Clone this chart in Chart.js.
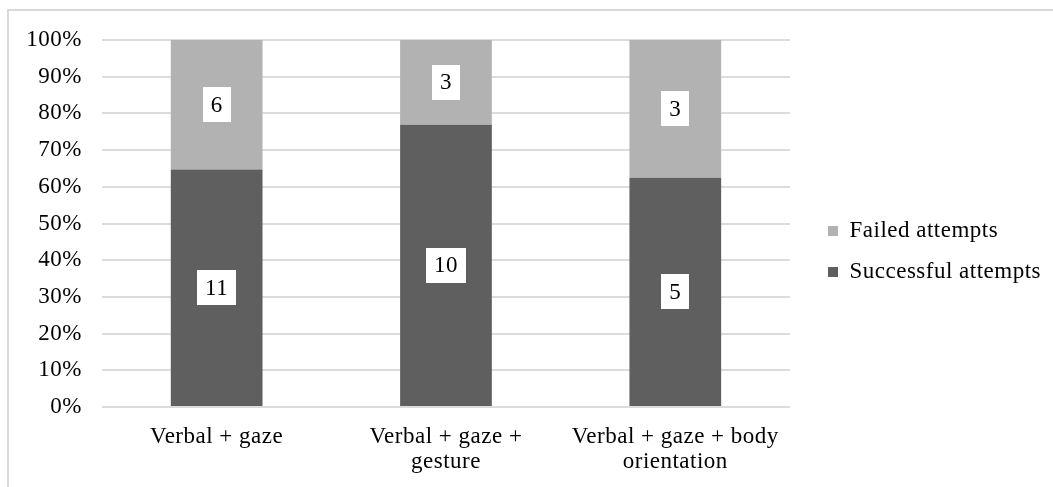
<!DOCTYPE html>
<html>
<head>
<meta charset="utf-8">
<script src="https://cdn.jsdelivr.net/npm/chart.js@4/dist/chart.umd.min.js"></script>
<style>
  html, body { margin: 0; padding: 0; background: #ffffff; }
  body { width: 1053px; height: 487px; position: relative; overflow: hidden; }
  #frame { position: absolute; left: 7px; top: 9px; width: 1100px; height: 600px;
           border-left: 2px solid #d9d9d9; border-top: 2px solid #d9d9d9; }
  #wrap { position: absolute; left: 0; top: 0; width: 1053px; height: 487px; }
</style>
</head>
<body>
<div id="frame"></div>
<div id="wrap"><canvas id="c" width="1053" height="487"></canvas></div>
<script>
// ---- data ----
const categories = [["Verbal + gaze"], ["Verbal + gaze +", "gesture"], ["Verbal + gaze + body", "orientation"]];
const successfulCounts = [11, 10, 5];
const failedCounts = [6, 3, 3];
const seriesNames = ["Successful attempts", "Failed attempts"];
const yTicks = [0, 10, 20, 30, 40, 50, 60, 70, 80, 90, 100];

const totals = successfulCounts.map((v, i) => v + failedCounts[i]);
const successfulPct = successfulCounts.map((v, i) => v / totals[i] * 100);
const failedPct = failedCounts.map((v, i) => v / totals[i] * 100);
const countsByDataset = [successfulCounts, failedCounts];

const FONT = "'Liberation Serif', 'Times New Roman', serif";
const FSIZE = 23;
const SPACING = '0.5px';

const spacingPlugin = {
  id: 'spacing',
  beforeUpdate(chart) { chart.ctx.letterSpacing = SPACING; },
  beforeDraw(chart) { chart.ctx.letterSpacing = SPACING; }
};

const legendShift = {
  id: 'legendShift',
  afterLayout(chart) {
    const lg = chart.legend;
    const pad = lg.options.labels.padding;
    const dx = 828 - pad - lg.left;
    lg.left += dx; lg.right += dx;
    const colH = lg.columnSizes && lg.columnSizes[0] ? lg.columnSizes[0].height : 84;
    const cur = (lg.top + pad + lg.bottom - colH) / 2;
    const dy = 219.5 - cur;
    lg.top += dy; lg.bottom += dy;
  }
};

const valueBoxes = {
  id: 'valueBoxes',
  afterDatasetsDraw(chart) {
    const ctx = chart.ctx;
    ctx.save();
    ctx.letterSpacing = SPACING;
    ctx.font = FSIZE + "px " + FONT;
    ctx.textAlign = 'center';
    ctx.textBaseline = 'middle';
    chart.data.datasets.forEach((ds, di) => {
      const meta = chart.getDatasetMeta(di);
      meta.data.forEach((bar, i) => {
        const txt = String(countsByDataset[di][i]);
        const cy = (bar.y + bar.base) / 2;
        const w = ctx.measureText(txt).width + 16;
        const h = 35;
        ctx.fillStyle = '#ffffff';
        ctx.fillRect(Math.round(bar.x - w / 2), Math.round(cy - h / 2), Math.round(w), h);
        ctx.fillStyle = '#000000';
        ctx.fillText(txt, bar.x, cy + 1);
      });
    });
    ctx.restore();
  }
};

new Chart(document.getElementById('c'), {
  type: 'bar',
  data: {
    labels: categories,
    datasets: [
      { label: seriesNames[0], data: successfulPct, backgroundColor: '#5f5f5f', borderWidth: 0 },
      { label: seriesNames[1], data: failedPct, backgroundColor: '#b2b2b2', borderWidth: 0 }
    ]
  },
  options: {
    responsive: false,
    animation: false,
    devicePixelRatio: 1,
    layout: { padding: { left: 0, top: 40, right: 22, bottom: 0 } },
    datasets: { bar: { barPercentage: 0.4, categoryPercentage: 1.0 } },
    plugins: {
      tooltip: { enabled: false },
      legend: {
        position: 'right',
        reverse: true,
        labels: {
          boxWidth: 10, boxHeight: 10, padding: 18,
          color: '#000000',
          font: { family: FONT, size: FSIZE }
        }
      }
    },
    scales: {
      x: {
        stacked: true,
        grid: { display: false, drawTicks: false },
        border: { display: false },
        ticks: { color: '#000000', padding: 17, maxRotation: 0, autoSkip: false,
                 font: { family: FONT, size: FSIZE, lineHeight: 1.1 } },
        afterFit(scale) { scale.height = 80; }
      },
      y: {
        stacked: true,
        min: 0, max: 100,
        afterBuildTicks(scale) { scale.ticks = yTicks.map(v => ({ value: v })); },
        grid: { color: '#dcdcdc', lineWidth: 2, drawTicks: false },
        border: { display: false },
        ticks: { color: '#000000', padding: 20,
                 font: { family: FONT, size: FSIZE },
                 callback: v => v + '%' },
        afterFit(scale) { scale.width = 102; }
      }
    }
  },
  plugins: [spacingPlugin, legendShift, valueBoxes]
});
</script>
</body>
</html>
